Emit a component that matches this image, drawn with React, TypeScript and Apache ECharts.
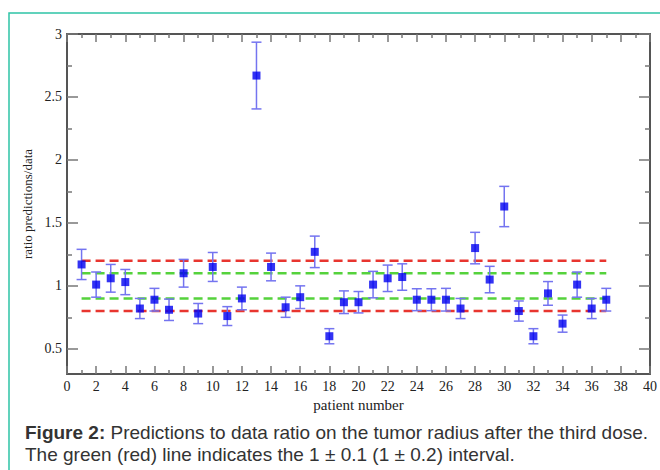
import React, { useEffect, useRef } from "react";
import * as echarts from "echarts";

const patients = [1, 2, 3, 4, 5, 6, 7, 8, 9, 10, 11, 12, 13, 14, 15, 16, 17, 18, 19, 20, 21, 22, 23, 24, 25, 26, 27, 28, 29, 30, 31, 32, 33, 34, 35, 36, 37];
const ratios = [1.17, 1.01, 1.06, 1.03, 0.82, 0.89, 0.81, 1.1, 0.78, 1.15, 0.76, 0.9, 2.67, 1.15, 0.83, 0.91, 1.27, 0.6, 0.87, 0.87, 1.01, 1.06, 1.07, 0.89, 0.89, 0.89, 0.82, 1.3, 1.05, 1.63, 0.8, 0.6, 0.94, 0.7, 1.01, 0.82, 0.89];
const errors = [0.12, 0.1, 0.11, 0.1, 0.08, 0.09, 0.085, 0.11, 0.08, 0.115, 0.075, 0.09, 0.265, 0.11, 0.08, 0.09, 0.125, 0.06, 0.09, 0.085, 0.105, 0.105, 0.105, 0.087, 0.087, 0.09, 0.08, 0.125, 0.105, 0.16, 0.08, 0.06, 0.094, 0.068, 0.1, 0.08, 0.09];
const yMajorTicks = [0.5, 1, 1.5, 2, 2.5, 3];
const yMinorTicks = [0.75, 1.25, 1.75, 2.25, 2.75];
const greenBand = [0.9, 1.1];
const redBand = [0.8, 1.2];
const bandRange = [1, 37];
const xTitle = "patient number";
const yTitle = "ratio predictions/data";
const captionBold = "Figure 2:";
const captionLine1 = " Predictions to data ratio on the tumor radius after the third dose.";
const captionLine2 = "The green (red) line indicates the 1 \u00b1 0.1 (1 \u00b1 0.2) interval.";

const SERIF = "Liberation Serif, DejaVu Serif, serif";
const SANS = "Liberation Sans";
const AXIS_COLOR = "#555";
const TICK_COLOR = "#777";

export default function App() {
  const ref = useRef<HTMLDivElement>(null);
  useEffect(() => {
    document.body.style.margin = "0";
    if (!ref.current) return;
    const chart = echarts.init(ref.current, null, { renderer: "svg" });

    const bandLine = (y: number, color: string) => ({
      type: "line",
      data: [[bandRange[0], y], [bandRange[1], y]],
      symbol: "none",
      silent: true,
      z: 1,
      lineStyle: { color, width: 2.5, type: [9, 5] },
    });

    const yCommon = {
      type: "value",
      min: 0.3,
      max: 3,
      splitLine: { show: false },
    };
    const xCommon = {
      type: "value",
      min: 0,
      max: 40,
      interval: 2,
      splitLine: { show: false },
    };
    const tickStyle = { color: TICK_COLOR, width: 1.5 };
    const serifRich = { s: { fontFamily: SERIF, fontSize: 14, color: "#222" } };

    const option: any = {
      animation: false,
      backgroundColor: "#fff",
      textStyle: { fontFamily: SERIF },
      grid: { left: 67, right: 7, top: 34, bottom: 96 },
      xAxis: [
        {
          ...xCommon,
          position: "bottom",
          name: xTitle,
          nameLocation: "middle",
          nameGap: 19,
          nameTextStyle: { fontFamily: SERIF, fontSize: 15, color: "#222" },
          axisLine: { show: true, lineStyle: { color: AXIS_COLOR, width: 2 } },
          axisTick: { show: true, inside: true, length: 8, lineStyle: tickStyle },
          minorTick: { show: true, splitNumber: 2, length: 4, lineStyle: tickStyle },
          axisLabel: { fontFamily: SERIF, fontSize: 14, color: "#222", margin: 5 },
        },
        {
          ...xCommon,
          position: "top",
          axisLine: { show: true, lineStyle: { color: AXIS_COLOR, width: 2 } },
          axisTick: { show: true, inside: true, length: 8, lineStyle: tickStyle },
          minorTick: { show: true, splitNumber: 2, length: 4, lineStyle: tickStyle },
          axisLabel: { show: false },
        },
      ],
      yAxis: [
        {
          ...yCommon,
          position: "left",
          name: yTitle,
          nameLocation: "middle",
          nameGap: 28,
          nameTextStyle: { fontFamily: SERIF, fontSize: 13, color: "#222" },
          axisLine: { show: true, lineStyle: { color: AXIS_COLOR, width: 2 } },
          axisTick: { show: true, inside: true, length: 11, lineStyle: tickStyle, customValues: yMajorTicks },
          axisLabel: {
            fontFamily: SERIF,
            fontSize: 14,
            color: "#222",
            margin: 5,
            customValues: yMajorTicks,
            formatter: (v: number) => "{s|" + v + "}",
            rich: serifRich,
          },
        },
        {
          ...yCommon,
          position: "left",
          axisLine: { show: false },
          axisTick: { show: true, inside: true, length: 5, lineStyle: tickStyle, customValues: yMinorTicks },
          axisLabel: { show: false },
        },
        {
          ...yCommon,
          position: "right",
          axisLine: { show: true, lineStyle: { color: AXIS_COLOR, width: 2 } },
          axisTick: { show: true, inside: true, length: 11, lineStyle: tickStyle, customValues: yMajorTicks },
          axisLabel: { show: false },
        },
        {
          ...yCommon,
          position: "right",
          axisLine: { show: false },
          axisTick: { show: true, inside: true, length: 5, lineStyle: tickStyle, customValues: yMinorTicks },
          axisLabel: { show: false },
        },
      ],
      series: [
        bandLine(redBand[1], "#e8352f"),
        bandLine(greenBand[1], "#55d23c"),
        bandLine(greenBand[0], "#55d23c"),
        bandLine(redBand[0], "#e8352f"),
        {
          type: "custom",
          z: 2,
          silent: true,
          data: patients.map((p, i) => [p, ratios[i] - errors[i], ratios[i] + errors[i]]),
          renderItem: (params: any, api: any) => {
            const x = api.value(0);
            const lo = api.coord([x, api.value(1)]);
            const hi = api.coord([x, api.value(2)]);
            const hw = 5;
            const style = { stroke: "#7474f0", lineWidth: 1.5, fill: "none" };
            return {
              type: "group",
              children: [
                { type: "line", shape: { x1: lo[0], y1: lo[1], x2: hi[0], y2: hi[1] }, style },
                { type: "line", shape: { x1: lo[0] - hw, y1: lo[1], x2: lo[0] + hw, y2: lo[1] }, style },
                { type: "line", shape: { x1: hi[0] - hw, y1: hi[1], x2: hi[0] + hw, y2: hi[1] }, style },
              ],
            };
          },
        },
        {
          type: "scatter",
          z: 3,
          symbol: "rect",
          symbolSize: 8,
          itemStyle: { color: "#0000f0" },
          data: patients.map((p, i) => [p, ratios[i]]),
        },
      ],
      graphic: [
        {
          type: "rect",
          shape: { x: 9, y: 13, width: 720, height: 520 },
          style: { fill: "none", stroke: "#2ec4a6", lineWidth: 1.5 },
          silent: true,
        },
        {
          type: "text",
          x: 25,
          y: 432,
          style: {
            text: "{b|" + captionBold + "}{r|" + captionLine1 + "}",
            fill: "#333",
            verticalAlign: "middle",
            rich: {
              b: { fontWeight: "bold", fontFamily: SANS, fontSize: 19, fill: "#333" },
              r: { fontFamily: SANS, fontSize: 19, fill: "#333" },
            },
          },
        },
        {
          type: "text",
          x: 25,
          y: 454,
          style: {
            text: captionLine2,
            fontFamily: SANS,
            fontSize: 19,
            fill: "#333",
            verticalAlign: "middle",
          },
        },
      ],
    };
    chart.setOption(option);
    return () => chart.dispose();
  }, []);
  return <div ref={ref} style={{ width: 660, height: 470 }} />;
}
